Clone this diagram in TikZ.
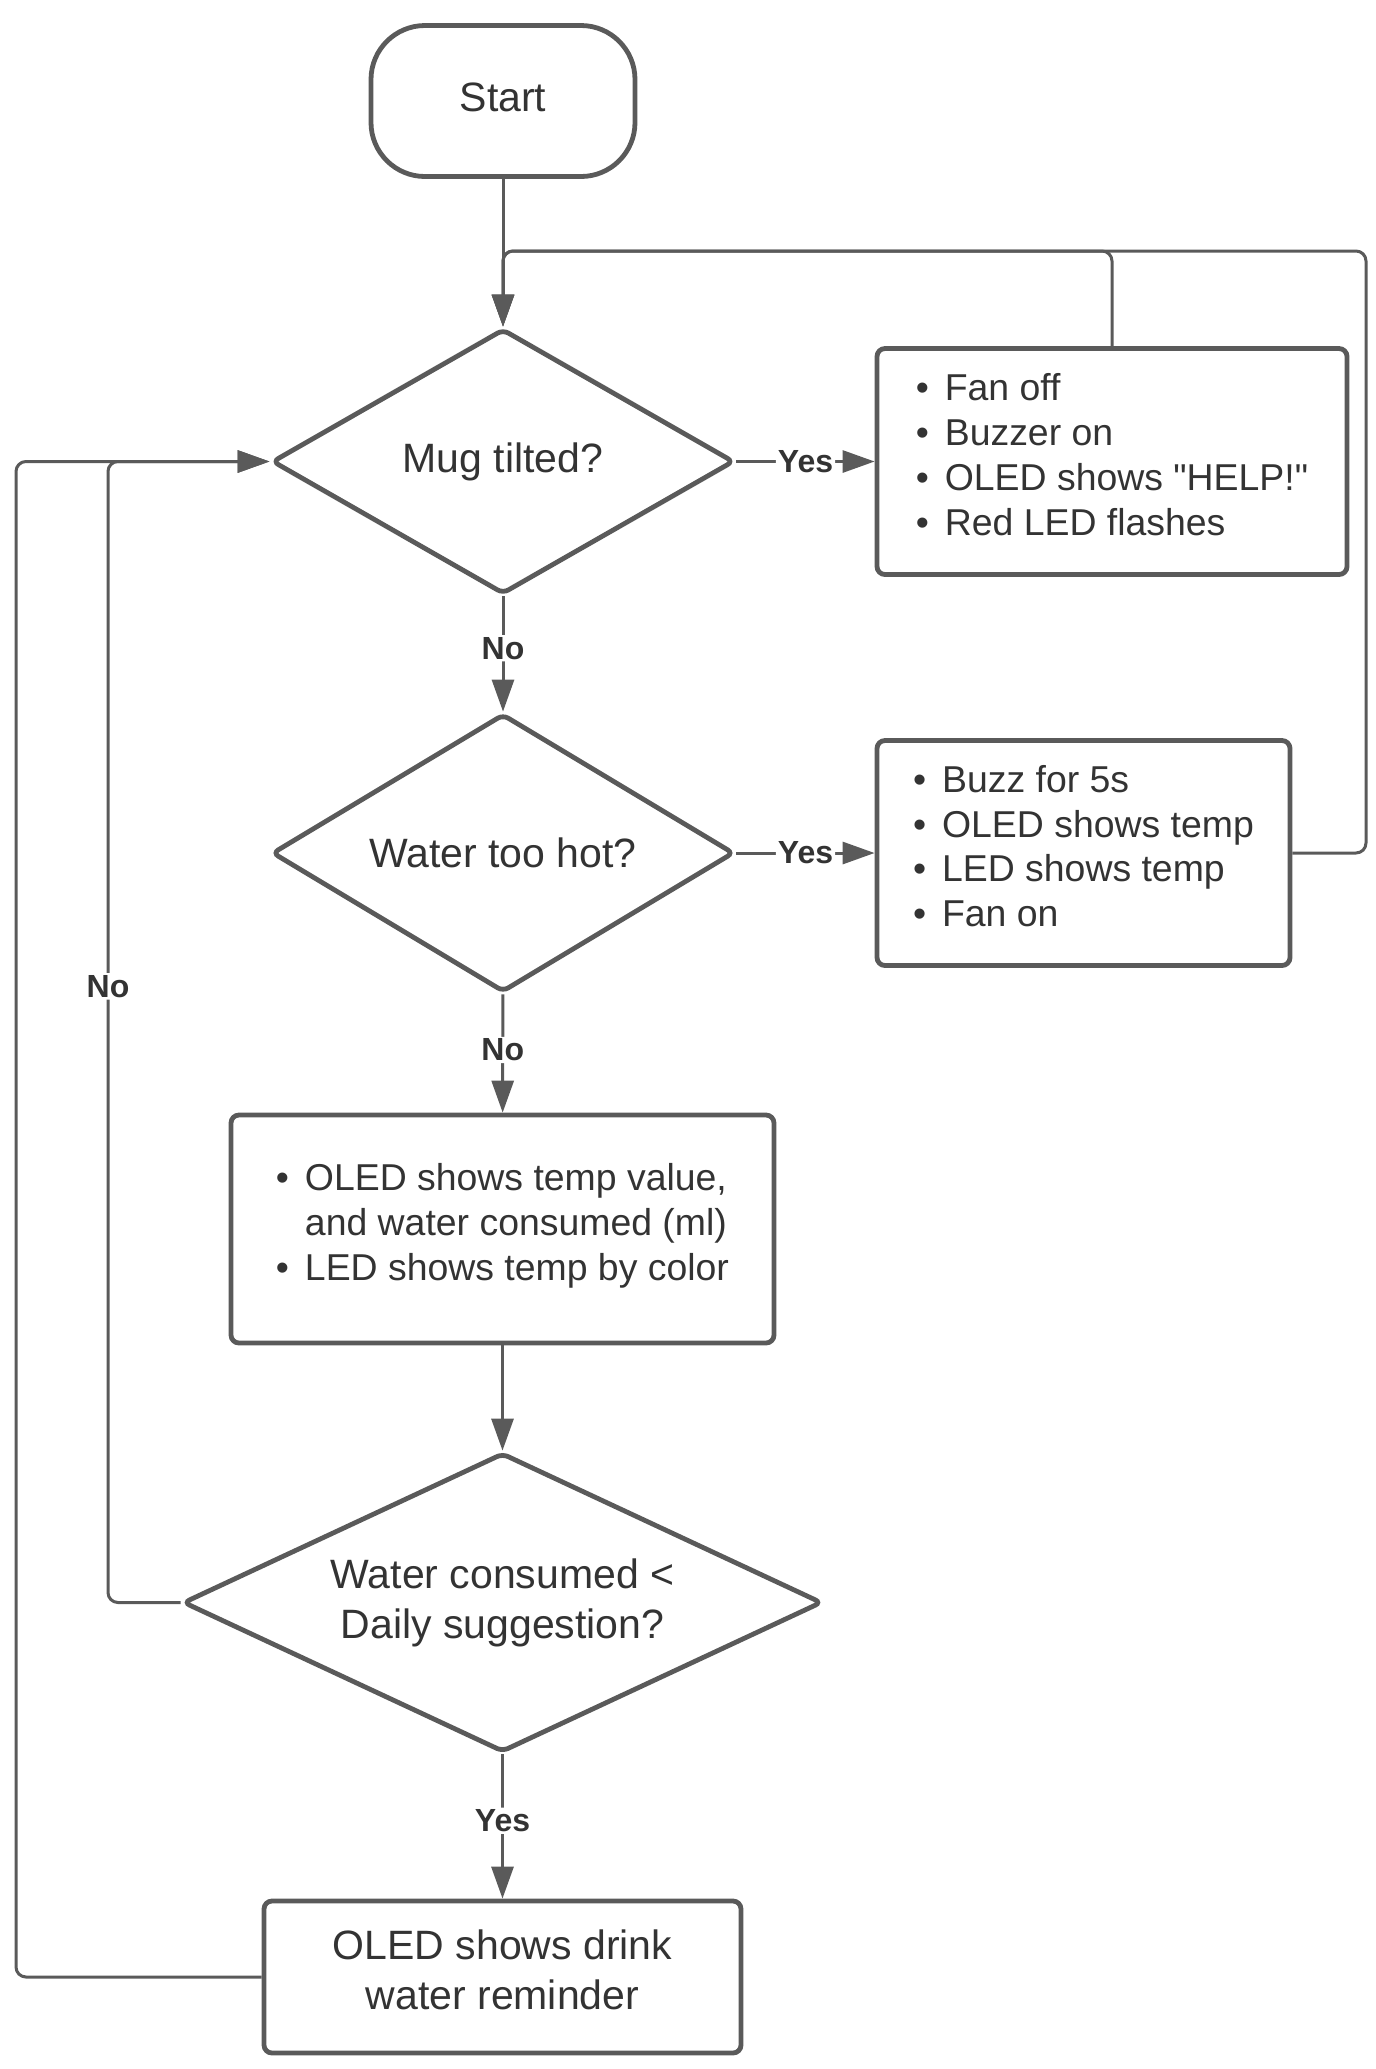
\documentclass[tikz,border=0pt]{standalone}
\usepackage{fontspec}
\setmainfont{Liberation Sans}
\usetikzlibrary{shapes.geometric,arrows.meta}
\definecolor{linegray}{HTML}{5A5A5A}
\definecolor{textgray}{HTML}{333333}
\newcommand\bitem{\makebox[14.5pt][l]{\textbullet}}

\begin{document}
\begin{tikzpicture}[x=0.5pt,y=-0.5pt,
  every node/.style={text=textgray},
  actbox/.style={draw=linegray,line width=2.4pt,rounded corners=4pt,align=left,text depth=7pt,font=\fontsize{18.7}{22.4}\selectfont},
  decision/.style={draw=linegray,line width=2.4pt,diamond,rounded corners=3pt,inner sep=0pt,align=center,font=\fontsize{20.5}{25}\selectfont},
  conn/.style={draw=linegray,line width=1.5pt,-{Triangle[length=16pt,width=11pt]},rounded corners=5pt},
  lbl/.style={fill=white,inner sep=1pt,font=\bfseries\fontsize{16}{19}\selectfont}]
  \useasboundingbox (0,0) rectangle (1376,2069);
  % main column
  \node[draw=linegray,line width=2.4pt,rounded corners=27pt,minimum width=132pt,minimum height=75.5pt,text depth=4pt,font=\fontsize{20.5}{25}\selectfont] (start) at (503,101) {Start};
  \node[decision,aspect=1.74,minimum width=231pt,minimum height=132.5pt] (tilt) at (503,461.5) {Mug tilted?};
  \node[decision,aspect=1.66,minimum width=231pt,minimum height=139pt] (hot) at (503,853) {Water too hot?};
  \node[actbox,minimum width=271.5pt,minimum height=114pt] (show) at (502.5,1229) {\bitem OLED shows temp value,\\ \hspace*{14.5pt}and water consumed (ml)\\ \bitem LED shows temp by color};
  \node[decision,aspect=2.14,minimum width=319.5pt,minimum height=149.5pt] (goal) at (502.5,1602.5) {Water consumed <\\ Daily suggestion?};
  \node[actbox,align=center,font=\fontsize{20.5}{25}\selectfont,minimum width=238.5pt,minimum height=76pt] (remind) at (502.5,1977) {OLED shows drink\\ water reminder};
  % side boxes
  \node[actbox,minimum width=235pt,minimum height=113pt] (help) at (1112,461.5) {\bitem Fan off\\ \bitem Buzzer on\\ \bitem OLED shows \textquotedbl HELP!\textquotedbl\\ \bitem Red LED flashes};
  \node[actbox,minimum width=206.5pt,minimum height=112.5pt] (buzz) at (1083.5,853) {\bitem Buzz for 5s\\ \bitem OLED shows temp\\ \bitem LED shows temp\\ \bitem Fan on};
  % loop corners
  \coordinate (top) at (503,251);
  \coordinate (farright) at (1366,251);
  \coordinate (innerleft) at (108,461.5);
  \coordinate (outerleft) at (16,461.5);
  % connectors
  \draw[conn] (start) -- (tilt);
  \draw[conn] (help.north) |- (top) -- (tilt.north);
  \draw[conn] (buzz.east) -| (farright) -- (top) -- (tilt.north);
  \draw[conn] (tilt.east) -- node[lbl]{Yes} (help.west);
  \draw[conn] (tilt) -- node[lbl,pos=0.45]{No} (hot);
  \draw[conn] (hot.east) -- node[lbl]{Yes} (buzz.west);
  \draw[conn] (hot) -- node[lbl,pos=0.47]{No} (show);
  \draw[conn] (show) -- (goal);
  \draw[conn] (goal) -- node[lbl,pos=0.46]{Yes} (remind);
  \draw[conn] (goal.west) -| node[lbl,pos=0.77]{No} (innerleft) -- (tilt.west);
  \draw[conn] (remind.west) -| (outerleft) -- (tilt.west);
\end{tikzpicture}
\end{document}
